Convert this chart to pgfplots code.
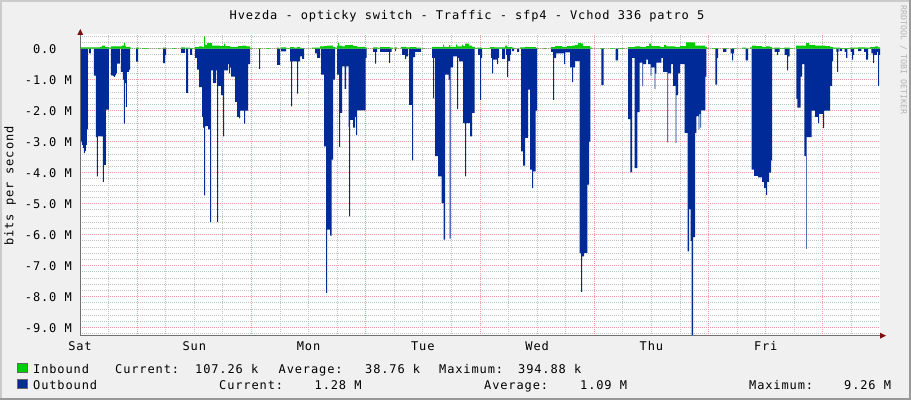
\documentclass[border=0pt]{standalone}
\usepackage{pgfplots}
\pgfplotsset{compat=1.18}
\usepackage{fontspec}
\newfontfamily\rrd[LetterSpace=7.3]{DejaVu Sans Mono}
\newfontfamily\wmfont{DejaVu Sans Mono}
\definecolor{bg}{HTML}{F0F0F0}
\definecolor{shadea}{HTML}{CBCBCB}
\definecolor{shadeb}{HTML}{999999}
\definecolor{ingreen}{HTML}{00CC00}
\definecolor{outblue}{HTML}{002A97}
\definecolor{gridminor}{HTML}{C2C2C2}
\definecolor{gridmajor}{HTML}{EC9C9C}
\definecolor{axiscol}{HTML}{707070}
\definecolor{arrowcol}{HTML}{7F1010}
\definecolor{wm}{HTML}{B4B4B4}
\newcommand{\rrdfont}{\fontsize{12}{14}\rrd}
\begin{document}
\begin{tikzpicture}[x=1pt,y=1pt]
\useasboundingbox (0,0) rectangle (911,400);
\fill[bg] (0,0) rectangle (911,400);
\fill[shadea] (0,398) rectangle (911,400);
\fill[shadea] (0,0) rectangle (2,400);
\fill[shadeb] (0,0) rectangle (911,2);
\fill[shadeb] (909,0) rectangle (911,400);

\begin{axis}[
  at={(80pt,64.3pt)}, anchor=south west,
  scale only axis, width=800pt, height=301.3pt,
  xmin=0, xmax=800, ymin=-9.26, ymax=0.46,
  axis background/.style={fill=white},
  axis line style={draw=none},
  tick style={draw=none},
  tick label style={font=\rrdfont},
  xtick={0,114.2857,228.5714,342.8571,457.1429,571.4286,685.7143},
  xticklabels={Sat,Sun,Mon,Tue,Wed,Thu,Fri},
  xticklabel style={anchor=base, inner sep=0pt, yshift=-15pt},
  minor xtick={28.571,85.714,114.286,142.857,200,228.571,257.143,314.286,342.857,371.429,428.571,457.143,485.714,542.857,571.429,600,657.143,685.714,714.286,771.429},
  extra x ticks={57.143,171.429,285.714,400,514.286,628.571,742.857},
  extra x tick labels={},
  extra x tick style={grid=major},
  ytick={-9,-8,-7,-6,-5,-4,-3,-2,-1,0},
  yticklabels={-9.0 M,-8.0 M,-7.0 M,-6.0 M,-5.0 M,-4.0 M,-3.0 M,-2.0 M,-1.0 M,0.0\hphantom{MM}},
  yticklabel style={anchor=base east, inner sep=0pt, xshift=-8pt, yshift=-4.4pt},
  minor ytick={-9.2,-9.0,...,0.4},
  xminorgrids=true, ymajorgrids=true, yminorgrids=true,
  minor grid style={gridminor, line width=0.8pt, dash pattern=on 1pt off 1pt},
  major grid style={gridmajor, line width=0.8pt, dash pattern=on 1pt off 1pt},
]
% Outbound (drawn negative)
\addplot[fill=outblue, draw=none, const plot] coordinates {
(0,0)(0.5,-3.0)(2,-3.1)(3,-3.2)(4,-3.37)(5,-3.3)(6,-3.1)(7,-2.6)(8,0)
(9,-0.15)(11,0)
(14,-0.87)(16,-2.85)(17,-4.12)(18,-2.83)(23,-4.3)(24,-3.75)(26,-1.97)(29,0)
(31,-0.86)(33,-0.88)(34,-0.91)(35,-0.86)(36,-0.8)(37,-0.48)(40,0)
(41,-0.75)(43,-1.0)(44,-2.42)(45,-1.1)(46,-1.88)(47,-0.75)(49,-0.68)(50,0)
(56,-0.42)(58,0)
(83,-0.47)(85,-0.2)(86,0)
(101,-0.14)(105,0)(106,-1.43)(108,0)(110,-0.2)(112,0)
(115,-0.3)(117,-0.68)(119,-1.24)(122,-2.2)(123,-2.55)(124,-4.73)(125,-2.5)(128,-2.6)(130,-5.6)(131,-0.7)(133,-1.1)(136,-0.7)(137,-5.6)(138,-1.2)(141,-1.5)(143,-2.83)(144,-0.7)(148,-0.5)(149,-0.8)(150,-0.6)(151,-0.9)(155,-1.72)(157,-2.2)(159,-2.25)(160,-2.0)(164,-2.42)(165,-2.0)(168,-0.5)(170,0)
(179,-0.65)(180,0)
(197,-0.52)(200,0)(201,-0.09)(206,0)
(210,-0.41)(211,-1.86)(212,-0.41)(217,-1.45)(218,-0.41)(220,-0.25)(222,-0.33)(224,0)
(235,-0.15)(237,-0.3)(240,0)
(241,-0.84)(244,-3.15)(246,-7.88)(247,-5.84)(250,-6.03)(251.5,-3.58)(253,-1.0)(255,0)
(257,-0.84)(259,-3.17)(260,-2.07)(262,-0.57)(264.5,-1.3)(266,-0.57)(268.5,-2.53)(269,-5.41)(270,-2.3)(273,-2.55)(275,-2.2)(276,-2.78)(277,-1.99)(285.5,-0.3)(286.5,0)
(293,-0.1)(295,-0.48)(296,-0.1)(297,0)
(300,-0.1)(309,-0.46)(310,-0.1)(311.5,0)
(315,-0.08)(316,0)
(322,-0.2)(325,-0.33)(326,-0.25)(328,0)
(329,-1.81)(332,-3.6)(333,-0.27)(335,-0.1)(341,0)
(352,-0.3)(353,-1.6)(354,-0.3)(355,-3.47)(358,-4.12)(361.5,-4.98)(363.5,-6.16)(365,-0.84)(368.5,-1.0)(369.5,-6.13)(370.5,-0.6)(373,-0.25)(377,-1.95)(378,-0.3)(379,-0.41)(383,-2.4)(385,-4.12)(386,-2.4)(390,-2.83)(392,-2.07)(394.5,0)
(398,-0.2)(400,-1.65)(401,-0.3)(402,0)
(411,-0.3)(412,-0.8)(413,-0.35)(417,-0.5)(418,-0.3)(419,0)
(422,-0.33)(425,0)(426,-0.2)(427,-0.91)(428,-0.4)(430,-0.2)(431,0)
(432,-0.08)(434,0)(437,-0.1)(439,0)
(441,-3.31)(443,-3.77)(445,-2.88)(448,-1.32)(450,-3.9)(452,-4.5)(453,-3.96)(455.5,-2.0)(457,0)
(471,-0.1)(473,-1.65)(474,-0.3)(476,-0.15)(484,-0.5)(485,-0.12)(490,-0.6)(492,-1.08)(493,-0.6)(495,-0.4)(499.5,-6.6)(501,-7.85)(502,-6.7)(504,-6.59)(507.3,-4.39)(509,-3.0)(510.3,0)
(521.3,-1.18)(523.7,0)
(535.7,-0.38)(538,0)
(548,-2.27)(550.3,-3.99)(552,-0.3)(554.7,-3.85)(557.3,-2.05)(559.7,-0.45)(562.3,-1.21)(563,-0.5)(566,-0.35)(568,-0.5)(570.7,-0.87)(571.3,-0.6)(574.7,-1.3)(575.3,-0.8)(576.3,-0.45)(581.3,-0.3)(583,-0.75)(587.3,-3.02)(588,-0.8)(591,-0.5)(593,-1.2)(595.7,-3.04)(596.3,-1.5)(598,-0.8)(600,-0.5)
(604.7,-2.72)(607.7,-6.54)(609,-5.18)(610.7,-6.2)(611.7,-9.26)(613,-6.08)(615,-2.72)(616.3,-2.18)(618.7,-2.6)(619.3,-2.1)(620.3,-2.55)(621,-1.99)(625.3,-0.9)(626.3,0)
(635.3,-1.16)(637,-0.3)(638,0)
(643,-0.1)(646.3,0)
(650.7,-0.15)(652,-0.38)(653,-0.15)(654,0)
(665.7,-0.38)(668,0)
(671.5,-3.9)(674,-4.1)(678,-4.15)(682,-4.3)(684,-4.5)(686,-4.72)(687,-4.3)(689,-4.0)(691,-3.6)(692,0)
(694.7,-0.1)(697,-0.2)(698,-0.1)(699.7,0)
(704.7,-0.2)(707,-0.7)(708,-0.25)(709.7,0)
(716.3,-1.62)(717.3,-1.9)(720.7,-0.9)(722,-0.5)(724.3,-3.47)(726,-6.46)(726.7,-2.85)(731.7,-2.0)(735,-2.2)(738,-2.4)(739,-2.1)(743,-2.56)(744,-2.0)(750,-1.2)(752,-0.4)(753,0)
(756.3,-0.1)(757,-0.75)(758,-0.1)(758.7,0)
(759.7,-0.08)(762,0)
(764.7,-0.1)(766,-0.3)(767.3,0)
(770.7,-0.1)(772,-0.35)(773,-0.2)(774,0)
(778,-0.08)(781.3,0)
(784,-0.1)(786,-0.35)(788,0)
(791.3,-0.15)(793,-0.46)(794,-0.2)(797,-0.1)(798,-1.2)(799,-0.2)(800,0)
};
% Inbound
\addplot[fill=ingreen, draw=none, const plot] coordinates {
(0,0)(0.5,0.04)(20,0.06)(22,0.1)(25,0.05)(29,0.03)(31,0.07)(42,0.1)(44,0.18)(45,0.1)(46,0.06)(50,0.03)(51,0)
(56,0.03)(59,0)(62,0.02)(68,0)(78,0.02)(80,0)(83,0.03)(86,0)(92,0.02)(96,0)
(101,0.04)(105,0.02)(106,0.03)(110,0.02)(114,0)
(115,0.05)(119,0.07)(122,0.06)(124,0.4)(125,0.12)(127,0.18)(132,0.1)(140,0.08)(144,0.16)(145,0.08)(150,0.06)(158,0.08)(162,0.1)(166,0.07)(170,0.02)(172,0)
(178,0.02)(181,0)(186,0.02)(190,0)(197,0.03)(199,0)(201,0.04)(206,0.02)(210,0.05)(214,0.03)(217,0.05)(220,0.02)(224,0)
(232,0.03)(240,0.07)(244,0.08)(247,0.1)(253,0.06)(255,0.03)(257,0.08)(258,0.18)(259,0.1)(262,0.07)(265,0.11)(270,0.12)(273,0.08)(277,0.06)(285,0.03)(287,0)
(293,0.04)(298,0.02)(300,0.05)(310,0.03)(313,0)(315,0.04)(317,0)(321,0.06)(326,0.04)(330,0.05)(336,0.03)(341,0)
(343,0.02)(345,0)
(352,0.06)(360,0.05)(363,0.13)(364,0.06)(369,0.11)(370,0.06)(376,0.14)(377,0.07)(382,0.13)(383,0.08)(385,0.16)(389,0.1)(392,0.06)(395,0.02)
(397,0.03)(402,0.02)(410,0.05)(414,0.04)(425,0.1)(427,0.05)(432,0.03)(434,0.02)(436,0)
(440,0.04)(445,0.06)(450,0.05)(456,0.02)(458,0)(463,0.02)(466,0)
(471,0.05)(475,0.08)(482,0.06)(487,0.08)(492,0.1)(495,0.12)(498,0.18)(501,0.16)(503,0.08)(510,0.03)(512,0)
(520,0.02)(524,0)(530,0.02)(534,0)(538,0.02)(544,0)
(548,0.05)(555,0.07)(560,0.06)(566,0.08)(569,0.16)(571,0.08)(580,0.06)(584,0.12)(586,0.07)(595,0.06)(600,0.08)(606,0.2)(615,0.1)(625,0.06)(627,0.02)(628,0)
(632,0.02)(638,0)(643,0.02)(648,0)(652,0.02)(656,0)(662,0.03)(666,0)
(670,0.04)(672,0.1)(676,0.08)(682,0.06)(686,0.07)(690,0.05)(692,0.02)(694,0.03)(700,0.02)(704,0.03)(710,0.02)(713,0)
(716,0.1)(720,0.1)(726,0.18)(729,0.12)(735,0.1)(745,0.08)(750,0.05)(753,0.03)(760,0.02)(770,0.03)(778,0.04)(785,0.03)(790,0.05)(795,0.07)(798,0.04)(800,0)
};
\end{axis}

% axes with arrows
\draw[axiscol, line width=1pt] (80,64.3) -- (881,64.3);
\fill[arrowcol] (886,64.3) -- (880,61.3) -- (880,67.3) -- cycle;
\draw[axiscol, line width=1pt] (80.3,64.3) -- (80.3,366);
\fill[arrowcol] (80.3,371) -- (77.3,365) -- (83.3,365) -- cycle;

% texts
\node[anchor=base, inner sep=0pt, font=\rrdfont] at (467,380.5) {Hvezda - opticky switch - Traffic - sfp4 - Vchod 336 patro 5};
\node[rotate=90, inner sep=0pt, font=\rrdfont] at (10,214) {bits per second};
\node[rotate=-90, inner sep=0pt, font=\fontsize{8.3}{9}\wmfont, text=wm] at (903.5,340) {RRDTOOL / TOBI OETIKER};

% legend
\filldraw[fill=ingreen, draw=black!60, line width=0.6pt] (17.5,27.3) rectangle (27.3,36.7);
\filldraw[fill=outblue, draw=black!60, line width=0.6pt] (17.5,11.7) rectangle (27.3,21.2);
\begin{scope}[every node/.style={anchor=base west, inner sep=0pt, font=\rrdfont}]
\node at (33,27) {Inbound};
\node at (115,27) {Current:};
\node at (195,27) {107.26 k};
\node at (278.5,27) {Average:};
\node at (365,27) {38.76 k};
\node at (439,27) {Maximum:};
\node at (518,27) {394.88 k};
\node at (33,11) {Outbound};
\node at (219,11) {Current:};
\node at (314.5,11) {1.28 M};
\node at (484,11) {Average:};
\node at (580,11) {1.09 M};
\node at (749,11) {Maximum:};
\node at (844,11) {9.26 M};
\end{scope}
\end{tikzpicture}
\end{document}
